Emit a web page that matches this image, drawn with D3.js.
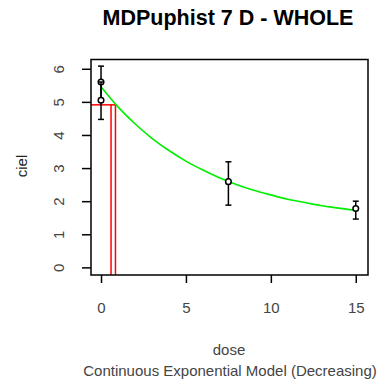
<!DOCTYPE html>
<html>
<head>
<meta charset="utf-8">
<script src="https://cdn.jsdelivr.net/npm/d3@7"></script>
<style>
  body { margin: 0; background: #fff; }
  text { font-family: "Liberation Sans", Arial, sans-serif; }
</style>
</head>
<body>
<div id="chart"></div>
<script>
// observed dose groups (mean with error bar)
var doses = [0, 0, 7.5, 15];
var means = [5.6, 5.05, 2.59, 1.78];
var lower = [5.1, 4.47, 1.88, 1.46];
var upper = [6.08, 5.6, 3.19, 2.0];

// fitted exponential curve
var curveDose = [0, 1, 2, 3, 4, 5, 6, 7, 8, 9, 10, 11, 12, 13, 14, 15];
var curveResp = [5.46, 4.85, 4.34, 3.9, 3.53, 3.21, 2.94, 2.7, 2.5, 2.33, 2.19, 2.06, 1.96, 1.86, 1.79, 1.72];

// benchmark dose lines
var bmr = 4.91, bmd = 0.85, bmdl = 0.59;

var xTicks = [0, 5, 10, 15];
var yTicks = [0, 1, 2, 3, 4, 5, 6];

var W = 381, H = 379;
var svg = d3.select("#chart").append("svg")
    .attr("width", W).attr("height", H);

var x = d3.scaleLinear().domain([-0.59, 15.72]).range([91, 368]);
var y = d3.scaleLinear().domain([-0.23, 6.28]).range([275, 59.5]);

// red BMD / BMDL lines
svg.append("line")
    .attr("x1", x(-0.59)).attr("x2", x(bmd))
    .attr("y1", y(bmr)).attr("y2", y(bmr))
    .attr("stroke", "#ff0000").attr("stroke-width", 1.5);
[bmdl, bmd].forEach(function(v){
  svg.append("line")
    .attr("x1", x(v)).attr("x2", x(v))
    .attr("y1", y(bmr)).attr("y2", y(-0.23))
    .attr("stroke", "#ff0000").attr("stroke-width", 1.5);
});

// green fitted curve
var line = d3.line()
    .x(function(d, i){ return x(curveDose[i]); })
    .y(function(d){ return y(d); })
    .curve(d3.curveMonotoneX);
svg.append("path")
    .datum(curveResp)
    .attr("d", line)
    .attr("fill", "none")
    .attr("stroke", "#00ee00")
    .attr("stroke-width", 1.6);

// error bars + points
var g = svg.append("g").attr("stroke", "#000").attr("stroke-width", 1.5).attr("fill", "none");
doses.forEach(function(d, i){
  var cx = x(d);
  g.append("line").attr("x1", cx).attr("x2", cx).attr("y1", y(lower[i])).attr("y2", y(upper[i]));
  g.append("line").attr("x1", cx - 3).attr("x2", cx + 3).attr("y1", y(lower[i])).attr("y2", y(lower[i]));
  g.append("line").attr("x1", cx - 3).attr("x2", cx + 3).attr("y1", y(upper[i])).attr("y2", y(upper[i]));
  g.append("circle").attr("cx", cx).attr("cy", y(means[i])).attr("r", 2.8).attr("fill", "#fff");
});

// plot box
svg.append("rect")
    .attr("x", 91).attr("y", 59.5)
    .attr("width", 368 - 91).attr("height", 275 - 59.5)
    .attr("fill", "none").attr("stroke", "#000").attr("stroke-width", 1.5);

// x axis
var xa = svg.append("g")
    .attr("transform", "translate(0,275)")
    .call(d3.axisBottom(x).tickValues(xTicks).tickSize(8).tickPadding(19).tickFormat(d3.format("d")));
xa.select(".domain").attr("display", "none");
xa.selectAll(".tick line").attr("stroke", "#000").attr("stroke-width", 1.5);
xa.selectAll(".tick text").attr("fill", "#444").style("font-size", "15px")
    .style("font-family", "'Liberation Sans', Arial, sans-serif");

// y axis
var ya = svg.append("g")
    .attr("transform", "translate(91,0)")
    .call(d3.axisLeft(y).tickValues(yTicks).tickSize(9).tickPadding(0).tickFormat(d3.format("d")));
ya.select(".domain").attr("display", "none");
ya.selectAll(".tick line").attr("stroke", "#000").attr("stroke-width", 1.5);
ya.selectAll(".tick text")
    .attr("x", 0).attr("dy", 0)
    .attr("transform", "translate(-31,0) rotate(-90)")
    .attr("text-anchor", "middle").attr("dominant-baseline", "middle")
    .attr("fill", "#444").style("font-size", "15px")
    .style("font-family", "'Liberation Sans', Arial, sans-serif");

// title and labels
svg.append("text")
    .attr("x", 228).attr("y", 25)
    .attr("text-anchor", "middle")
    .style("font-size", "21.5px").style("font-weight", "bold")
    .text("MDPuphist 7 D - WHOLE");

svg.append("text")
    .attr("x", 229).attr("y", 355)
    .attr("text-anchor", "middle")
    .attr("fill", "#444").style("font-size", "15px")
    .text("dose");

svg.append("text")
    .attr("x", 230).attr("y", 376)
    .attr("text-anchor", "middle")
    .attr("fill", "#444").style("font-size", "15px")
    .text("Continuous Exponential Model (Decreasing)");

svg.append("text")
    .attr("transform", "translate(27,166) rotate(-90)")
    .attr("text-anchor", "middle")
    .attr("fill", "#222").style("font-size", "15px")
    .text("ciel");
</script>
</body>
</html>
